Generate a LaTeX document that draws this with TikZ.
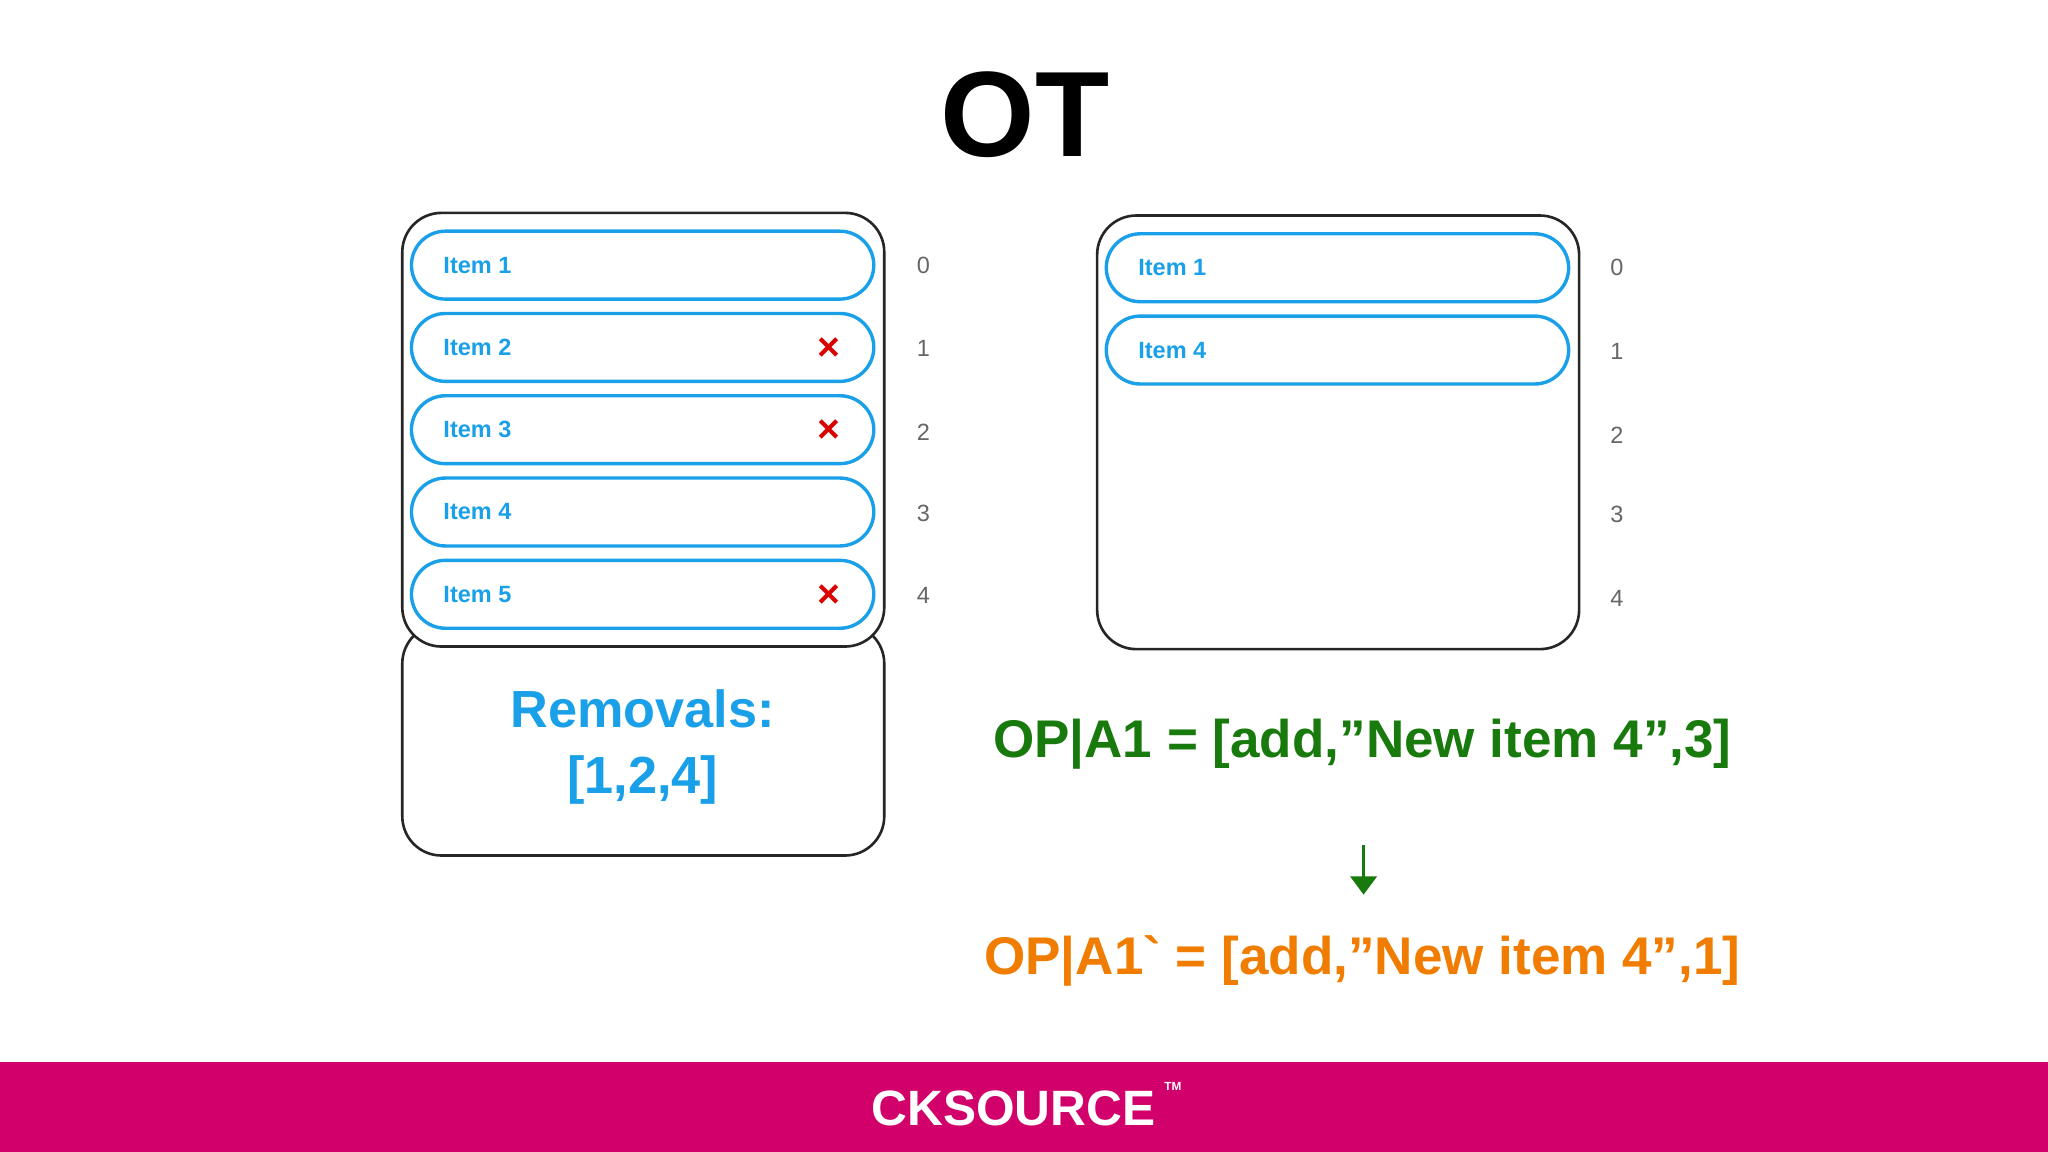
\documentclass[tikz,border=0pt]{standalone}
\usepackage{fontspec}
\setmainfont{Liberation Sans}
\usetikzlibrary{arrows.meta}
\definecolor{itemblue}{HTML}{1AA0E8}
\definecolor{opgreen}{HTML}{187A0C}
\definecolor{oporange}{HTML}{F07C00}
\definecolor{barpink}{HTML}{D1006A}
\begin{document}
\begin{tikzpicture}[x=1pt,y=-1pt,
  outer/.style={draw=black!85,line width=2pt,rounded corners=30pt},
  itembox/.style={draw=itemblue,line width=2.6pt,rounded corners=26pt,fill=white},
  itemtxt/.style={font=\fontsize{18}{20}\selectfont\bfseries,text=itemblue,anchor=west},
  idx/.style={font=\fontsize{18}{20}\selectfont,text=black!60},
  xmark/.style={font=\fontsize{30}{30}\selectfont\bfseries,text=red!85!black}]
\useasboundingbox[fill=white] (0,0) rectangle (1568,882);
\node[font=\fontsize{93}{100}\selectfont\bfseries] (title) at (785,88) {OT};
% left
\draw[outer] (308,478) rectangle (677,655);
\draw[outer,fill=white] (308,163) rectangle (677,495);
\foreach \i/\y in {1/203,2/266,3/329,4/392,5/455}{
  \draw[itembox] (315,\y-26) rectangle (669,\y+26);
  \node[itemtxt] (L\i) at (336,\y) {Item \i};
}
\foreach \i/\y in {0/203,1/267,2/331,3/393,4/456}{\node[idx] (li\i) at (707,\y) {\i};}
\foreach \y in {266,329,455}{\node[xmark] at (635,\y+1) {×};}
\node[font=\fontsize{40}{50}\selectfont\bfseries,text=itemblue,align=center] (rem) at (492,572) {Removals:\\{[}1,2,4{]}};
% right
\draw[outer] (840,165) rectangle (1209,497);
\draw[itembox] (847,179) rectangle (1201,231);
\node[itemtxt] (R1) at (868,205) {Item 1};
\draw[itembox] (847,242) rectangle (1201,294);
\node[itemtxt] (R4) at (868,268) {Item 4};
\foreach \i/\y in {0/205,1/269,2/333,3/394,4/458}{\node[idx] (ri\i) at (1238,\y) {\i};}
\node[font=\fontsize{40.6}{42}\selectfont\bfseries,text=opgreen] (op1) at (1043,570) {OP|A1 = [add,”New item 4”,3]};
\node[font=\fontsize{40.6}{42}\selectfont\bfseries,text=oporange] (op2) at (1043,736) {OP|A1\textasciigrave{} = [add,”New item 4”,1]};
\coordinate (a1) at (1044,647);
\coordinate (a2) at (1044,685);
\draw[opgreen,line width=2.5pt,-{Triangle[width=20pt,length=14pt]}] (a1) -- (a2);
% bar
\fill[barpink] (0,813) rectangle (1568,882);
\node[font=\fontsize{38}{40}\selectfont\bfseries,text=white] (logo) at (776,849) {CKSOURCE};
\node[font=\fontsize{9}{10}\selectfont\bfseries,text=white] at (898,832) {TM};
\end{tikzpicture}
\end{document}
